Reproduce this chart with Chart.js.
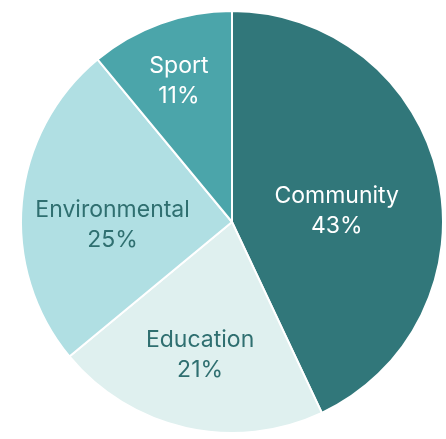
<!DOCTYPE html>
<html>
<head>
<meta charset="utf-8">
<script src="https://cdn.jsdelivr.net/npm/chart.js@4.4.0/dist/chart.umd.min.js"></script>
<style>
  html, body { margin: 0; padding: 0; background: #fff; }
  #wrap { width: 446px; height: 439px; }
</style>
</head>
<body>
<div id="wrap"><canvas id="pieChart"></canvas></div>
<script>
//  Categories and shares (percent)
var categories = ["Community", "Education", "Environmental", "Sport"];
var shares = [43, 21, 25, 11];

var sliceColors = ["#31777a", "#dff0ef", "#b0dfe3", "#4ba5aa"];
var textColors = ["#ffffff", "#2f6f70", "#2f6f70", "#ffffff"];
//  label placement: fraction of radius, and nudge from mid angle (degrees)
var labelRadius = [0.50, 0.643, 0.566, 0.722];
var labelTurn = [5.6, 1.0, -6.4, -0.6];

//  draw "name / xx%" inside each slice
var sliceLabels = {
    id: 'sliceLabels',
    afterDatasetsDraw: function(chart) {
        var ctx = chart.ctx;
        var meta = chart.getDatasetMeta(0);
        var capMid = 8.4;   // half the cap height at 23px
        ctx.save();
        ctx.textAlign = 'center';
        ctx.textBaseline = 'alphabetic';
        ctx.font = '23px Inter, "Noto Sans", sans-serif';
        meta.data.forEach(function(arc, i) {
            var p = arc.getProps(['x', 'y', 'startAngle', 'endAngle', 'outerRadius'], true);
            var mid = (p.startAngle + p.endAngle) / 2 + labelTurn[i] * Math.PI / 180;
            var r = p.outerRadius * labelRadius[i];
            var x = p.x + Math.cos(mid) * r;
            var y = p.y + Math.sin(mid) * r;
            ctx.fillStyle = textColors[i];
            ctx.fillText(categories[i], x, y - 15 + capMid);
            ctx.fillText(shares[i] + '%', x, y + 15 + capMid);
        });
        ctx.restore();
    }
};

new Chart(document.getElementById("pieChart"), {
    type: 'pie',
    data: {
        labels: categories,
        datasets: [{
            data: shares,
            backgroundColor: sliceColors,
            borderColor: "#ffffff",
            borderWidth: 2
        }]
    },
    options: {
        responsive: true,
        maintainAspectRatio: false,
        animation: false,
        layout: {padding: {left: 20, right: 2, top: 10, bottom: 5}},
        plugins: {
            legend: {display: false},
            tooltip: {enabled: false}
        }
    },
    plugins: [sliceLabels]
});
</script>
</body>
</html>
